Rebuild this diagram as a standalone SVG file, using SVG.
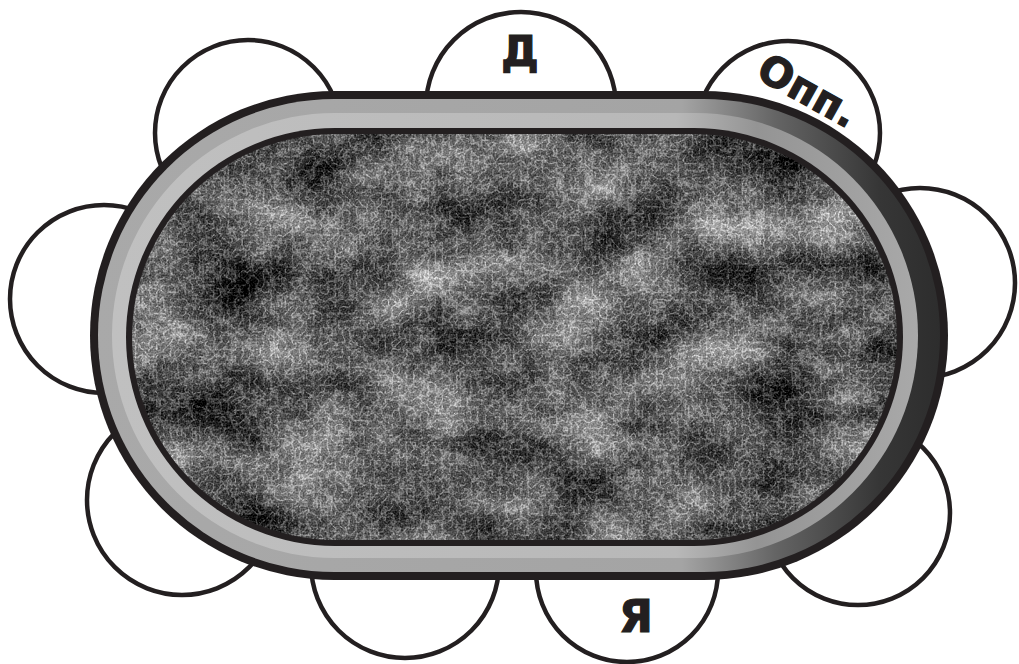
<svg xmlns="http://www.w3.org/2000/svg" width="1019" height="664" viewBox="0 0 1019 664">
<style>
.seat{fill:#ffffff;stroke:#231f20;stroke-width:4.5}
.lbl{font-family:"DejaVu Sans","Liberation Sans",sans-serif;font-weight:bold;fill:#231f20;stroke:#231f20;stroke-width:1.2}
</style>
<defs>
<linearGradient id="rimOuter" gradientUnits="userSpaceOnUse" x1="90" y1="0" x2="948" y2="0">
<stop offset="0" stop-color="#a9a9a9"/>
<stop offset="0.69" stop-color="#a4a4a4"/>
<stop offset="0.8" stop-color="#646464"/>
<stop offset="0.92" stop-color="#363636"/>
<stop offset="1" stop-color="#2c2c2c"/>
</linearGradient>
<linearGradient id="rimInner" gradientUnits="userSpaceOnUse" x1="112" y1="0" x2="918" y2="0">
<stop offset="0" stop-color="#c0c0c0"/>
<stop offset="0.7" stop-color="#b8b8b8"/>
<stop offset="0.8" stop-color="#949494"/>
<stop offset="1" stop-color="#a9a9a9"/>
</linearGradient>
<clipPath id="feltClip"><rect x="132" y="134" width="765" height="406" rx="203" ry="203"/></clipPath>
<filter id="feltTex" filterUnits="userSpaceOnUse" x="130" y="130" width="772" height="414" color-interpolation-filters="sRGB">
<feTurbulence type="fractalNoise" baseFrequency="0.011 0.016" numOctaves="5" seed="11" result="n1"/>
<feColorMatrix in="n1" type="matrix" values="1 0 0 0 0  1 0 0 0 0  1 0 0 0 0  0 0 0 0 1" result="g1"/>
<feTurbulence type="turbulence" baseFrequency="0.14" numOctaves="2" seed="4" result="n2"/>
<feColorMatrix in="n2" type="matrix" values="-4 0 0 0 1.1  -4 0 0 0 1.1  -4 0 0 0 1.1  0 0 0 0 1" result="g2"/>
<feTurbulence type="fractalNoise" baseFrequency="0.6" numOctaves="1" seed="2" result="n3"/>
<feColorMatrix in="n3" type="matrix" values="1 0 0 0 0  1 0 0 0 0  1 0 0 0 0  0 0 0 0 1" result="g3"/>
<feComposite in="g1" in2="g2" operator="arithmetic" k1="0" k2="0.85" k3="0.26" k4="-0.05" result="c1"/>
<feComposite in="c1" in2="g3" operator="arithmetic" k1="0" k2="1" k3="0.55" k4="-0.33"/>
</filter>
</defs>

<g id="seats">
<circle id="seat-top-left" class="seat" cx="248" cy="133" r="93"/>
<circle id="seat-dealer" class="seat" cx="521" cy="107" r="95"/>
<circle id="seat-opp" class="seat" cx="788" cy="133" r="92"/>
<circle id="seat-right" class="seat" cx="920" cy="283" r="95"/>
<circle id="seat-left" class="seat" cx="104" cy="299" r="94"/>
<circle id="seat-bottom-left" class="seat" cx="182" cy="500" r="95"/>
<circle id="seat-bottom-mid" class="seat" cx="405" cy="564" r="94"/>
<circle id="seat-me" class="seat" cx="627" cy="571" r="91"/>
<circle id="seat-bottom-right" class="seat" cx="858" cy="513" r="92"/>
</g>

<g id="table">
<rect x="90" y="91" width="858" height="489" rx="244.5" ry="244.5" fill="#231f20"/>
<rect x="98" y="99" width="842" height="473" rx="236.5" ry="236.5" fill="url(#rimOuter)"/>
<rect x="112" y="113" width="806" height="445" rx="222.5" ry="222.5" fill="url(#rimInner)"/>
<rect x="126" y="128" width="777" height="418" rx="209" ry="209" fill="#231f20"/>
<g clip-path="url(#feltClip)">
<rect x="130" y="130" width="772" height="414" fill="#707070" filter="url(#feltTex)"/>
</g>
</g>

<g id="labels">
<text class="lbl" x="520" y="66" font-size="42" text-anchor="middle">Д</text>
<text class="lbl" x="0" y="0" font-size="41" text-anchor="middle" transform="translate(801,103) rotate(29)">Опп.</text>
<text class="lbl" x="636" y="632" font-size="44" text-anchor="middle">Я</text>
</g>
</svg>
